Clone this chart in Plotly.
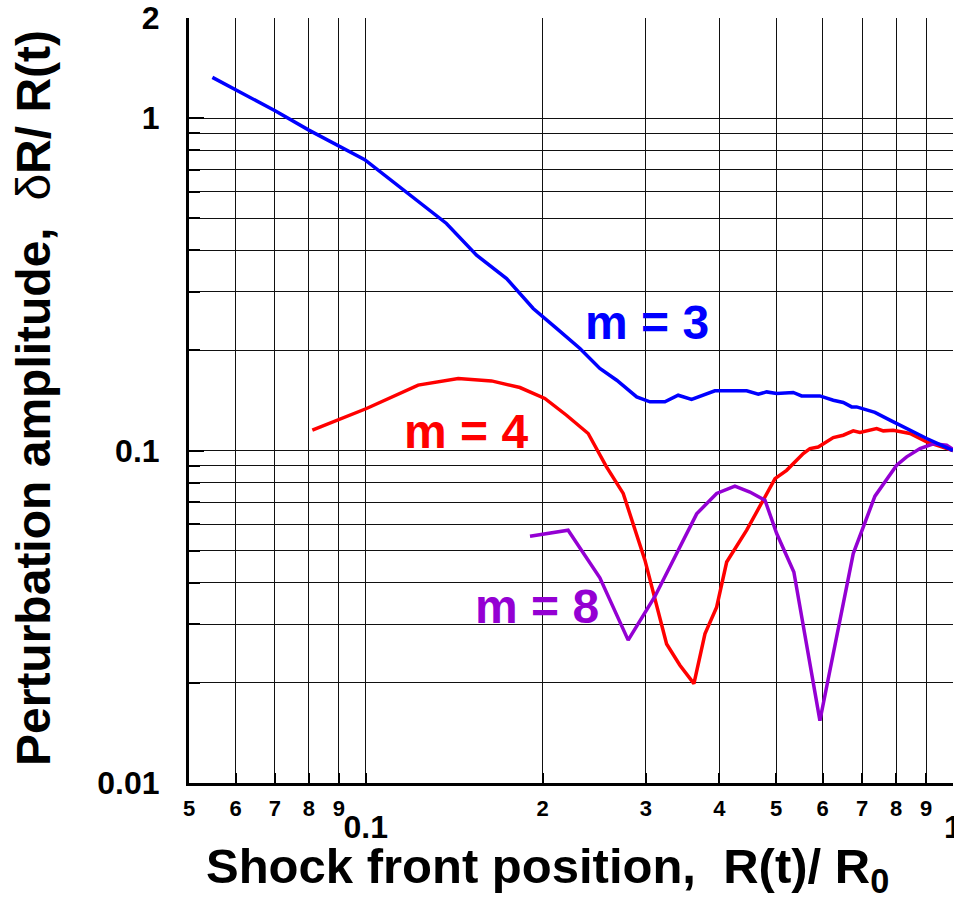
import math
import plotly.graph_objects as go

# ---------------- data ----------------
m3_x = [0.0548, 0.0702, 0.0800, 0.0903, 0.0996, 0.1372, 0.1544, 0.1737, 0.1928, 0.2113,
        0.2316, 0.2504, 0.2675, 0.2893, 0.3047, 0.3231, 0.3404, 0.3588, 0.3931, 0.4453,
        0.4660, 0.4816, 0.5009, 0.5344, 0.5523, 0.5934, 0.6253, 0.6503, 0.6721, 0.6854,
        0.7363, 0.7809, 0.8447, 0.9020, 1.0]
m3_y = [1.326, 1.050, 0.920, 0.820, 0.750, 0.482, 0.387, 0.329, 0.2675, 0.2330,
        0.2027, 0.1765, 0.1627, 0.1450, 0.1401, 0.1401, 0.1467, 0.1424, 0.1512, 0.1512,
        0.1477, 0.1501, 0.1484, 0.1495, 0.1460, 0.1460, 0.1417, 0.1395, 0.1353, 0.1353,
        0.1302, 0.1234, 0.1151, 0.1087, 0.100]

m4_x = [0.0811, 0.0903, 0.1003, 0.1228, 0.1437, 0.1637, 0.1830, 0.2018, 0.2197, 0.2392,
        0.2570, 0.2744, 0.2988, 0.3253, 0.3427, 0.3621, 0.3781, 0.3958, 0.4117, 0.4453,
        0.4752, 0.4976, 0.5208, 0.5559, 0.5707, 0.5895, 0.6253, 0.6503, 0.6763, 0.6943,
        0.7413, 0.7608, 0.7910, 0.8447, 0.9020, 1.0]
m4_y = [0.1151, 0.1240, 0.1338, 0.1573, 0.1647, 0.1620, 0.1547, 0.1434, 0.1277, 0.1125,
        0.0893, 0.0743, 0.0468, 0.0262, 0.0226, 0.0199, 0.0281, 0.0338, 0.0462, 0.0576,
        0.0709, 0.0823, 0.0872, 0.0979, 0.1014, 0.1025, 0.1094, 0.1112, 0.1146, 0.1133,
        0.1165, 0.1146, 0.1151, 0.1125, 0.1061, 0.100]

m8_x = [0.1904, 0.2211, 0.2504, 0.2798, 0.3107, 0.3660, 0.3958, 0.4252, 0.4510, 0.4784,
        0.5009, 0.5358, 0.5934, 0.6763, 0.7363, 0.8018, 0.8338, 0.8786, 0.9256, 0.9756, 1.0]
m8_y = [0.0552, 0.0576, 0.0414, 0.0269, 0.0364, 0.0645, 0.0743, 0.0781, 0.0750, 0.0709,
        0.0563, 0.0431, 0.0154, 0.0490, 0.0729, 0.0903, 0.0957, 0.1014, 0.1048, 0.1037, 0.1009]

x_minor_vals = [0.05, 0.06, 0.07, 0.08, 0.09, 0.2, 0.3, 0.4, 0.5, 0.6, 0.7, 0.8, 0.9]
x_minor_text = ["5", "6", "7", "8", "9", "2", "3", "4", "5", "6", "7", "8", "9"]
x_major_vals = [0.1, 1.0]
x_major_text = ["0.1", "1"]

y_major_vals = [0.01, 0.1, 1, 2]
y_major_text = ["0.01", "0.1", "1", "2"]
y_minor_vals = [0.02, 0.03, 0.04, 0.05, 0.06, 0.07, 0.08, 0.09,
                0.2, 0.3, 0.4, 0.5, 0.6, 0.7, 0.8, 0.9]

labels = ["m = 3", "m = 4", "m = 8"]
label_x = [0.3012, 0.1481, 0.1956]
label_y = [0.2432, 0.1143, 0.0340]

# ---------------- style ----------------
FONT = "Liberation Sans, Arial, sans-serif"
BLUE = "#0000FF"
RED = "#FF0000"
PURPLE = "#9400D3"
GRID = "#111111"
GRID_W = 1.3

fig = go.Figure()
fig.add_trace(go.Scatter(x=m4_x, y=m4_y, mode="lines", line=dict(color=RED, width=3.5),
                         showlegend=False, hoverinfo="skip"))
fig.add_trace(go.Scatter(x=m8_x, y=m8_y, mode="lines", line=dict(color=PURPLE, width=3.5),
                         showlegend=False, hoverinfo="skip"))
fig.add_trace(go.Scatter(x=m3_x, y=m3_y, mode="lines", line=dict(color=BLUE, width=3.5),
                         showlegend=False, hoverinfo="skip", xaxis="x2"))

xrange = [math.log10(0.05), 0]
yrange = [-2, math.log10(2)]

fig.update_layout(
    width=954, height=898,
    margin=dict(l=189, r=1, t=18, b=115, pad=0, autoexpand=False),
    paper_bgcolor="white", plot_bgcolor="white",
    xaxis=dict(
        type="log", range=xrange, anchor="y", automargin=False,
        tickmode="array", tickvals=x_minor_vals, ticktext=x_minor_text,
        tickfont=dict(family=FONT, size=22, color="black", weight="bold"),
        ticks="inside", ticklen=10, tickwidth=2, tickcolor="black",
        showgrid=True, gridcolor=GRID, gridwidth=GRID_W,
        showline=True, linecolor="black", linewidth=3, zeroline=False,
        ticklabelstandoff=4, ticklabeloverflow="allow",
        minor=dict(tickvals=x_major_vals, ticks="inside", ticklen=10, tickwidth=2,
                   tickcolor="black", showgrid=True, gridcolor=GRID, gridwidth=GRID_W),
    ),
    xaxis2=dict(
        type="log", range=xrange, overlaying="x", anchor="y", side="bottom",
        automargin=False,
        tickmode="array", tickvals=x_major_vals, ticktext=x_major_text,
        tickfont=dict(family=FONT, size=32, color="black", weight="bold"),
        ticks="", showgrid=False, showline=False, zeroline=False,
        ticklabelstandoff=22, ticklabeloverflow="allow",
    ),
    yaxis=dict(
        type="log", range=yrange, automargin=False,
        tickmode="array", tickvals=y_major_vals, ticktext=y_major_text,
        tickfont=dict(family=FONT, size=32, color="black", weight="bold"),
        ticks="inside", ticklen=15, tickwidth=2, tickcolor="black",
        showgrid=True, gridcolor=GRID, gridwidth=GRID_W,
        showline=True, linecolor="black", linewidth=3, zeroline=False,
        ticklabelstandoff=20,
        minor=dict(tickvals=y_minor_vals, ticks="inside", ticklen=11, tickwidth=2,
                   tickcolor="black", showgrid=True, gridcolor=GRID, gridwidth=GRID_W),
    ),
)

colors = [BLUE, RED, PURPLE]
for t, lx, ly, c in zip(labels, label_x, label_y, colors):
    fig.add_annotation(x=math.log10(lx), y=math.log10(ly), xref="x", yref="y",
                       text=t, showarrow=False, xanchor="center", yanchor="middle",
                       font=dict(family=FONT, size=48, color=c, weight="bold"))

fig.add_annotation(x=(547 - 189) / 764, y=(783 - 869) / 765, xref="paper", yref="paper",
                   text="Shock front position,&nbsp; R(t)/ R<sub>0</sub>", showarrow=False,
                   xanchor="center", yanchor="middle",
                   font=dict(family=FONT, size=49, color="black", weight="bold"))
fig.add_annotation(x=(33 - 189) / 764, y=(783 - 398) / 765, xref="paper", yref="paper",
                   text="Perturbation amplitude,&nbsp; <span style='font-weight:normal'>δ</span>R/ R(t)",
                   showarrow=False, textangle=-90, xanchor="center", yanchor="middle",
                   font=dict(family=FONT, size=48, color="black", weight="bold"))

fig.write_html("out.html")
